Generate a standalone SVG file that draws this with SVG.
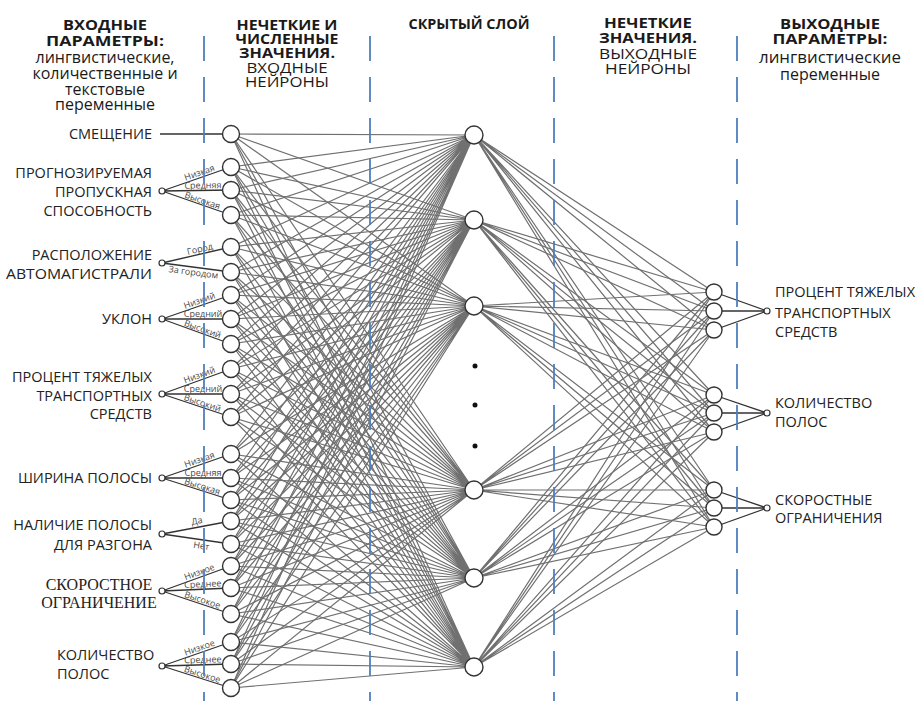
<svg xmlns="http://www.w3.org/2000/svg" width="919" height="701" viewBox="0 0 919 701">
<style>
.hb{font-family:"Open Sans","DejaVu Sans",sans-serif;font-weight:700;font-size:15px;fill:#1a1a1a;text-anchor:middle}
.hr{font-family:"Open Sans","DejaVu Sans",sans-serif;font-size:15px;fill:#1a1a1a;text-anchor:middle}
.hl{font-family:"Open Sans","DejaVu Sans",sans-serif;font-size:16px;fill:#1a1a1a;text-anchor:middle}
.lb{font-family:"Open Sans","DejaVu Sans",sans-serif;font-size:14.5px;fill:#222}
.ls{font-family:"Liberation Serif","Times New Roman",serif;font-size:16px;fill:#222;text-anchor:middle}
.bl{font-family:"Open Sans","DejaVu Sans",sans-serif;font-size:9px;fill:#4a4a4a;text-anchor:middle}
.n{fill:#fff;stroke:#333;stroke-width:1.4}
.s{fill:#fff;stroke:#333;stroke-width:1.2}
.w{fill:none;stroke:#707070;stroke-width:1.2}
.b{fill:none;stroke:#333;stroke-width:1.3}
.d{stroke:#4f7fbf;stroke-width:1.8;stroke-dasharray:25 16}
</style>
<rect width="919" height="701" fill="#fff"/>

<g id="headers">
<text class="hb" x="105" y="30" textLength="84" lengthAdjust="spacingAndGlyphs">ВХОДНЫЕ</text>
<text class="hb" x="105" y="46" textLength="118" lengthAdjust="spacingAndGlyphs">ПАРАМЕТРЫ:</text>
<text class="hl" x="105" y="63">лингвистические,</text>
<text class="hl" x="105" y="79">количественные и</text>
<text class="hl" x="105" y="95">текстовые</text>
<text class="hl" x="105" y="110">переменные</text>
<text class="hb" x="287" y="30" textLength="101" lengthAdjust="spacingAndGlyphs">НЕЧЕТКИЕ И</text>
<text class="hb" x="287" y="44" textLength="103" lengthAdjust="spacingAndGlyphs">ЧИСЛЕННЫЕ</text>
<text class="hb" x="287" y="58" textLength="96" lengthAdjust="spacingAndGlyphs">ЗНАЧЕНИЯ.</text>
<text class="hr" x="287" y="73" textLength="81" lengthAdjust="spacingAndGlyphs">ВХОДНЫЕ</text>
<text class="hr" x="287" y="87" textLength="84" lengthAdjust="spacingAndGlyphs">НЕЙРОНЫ</text>
<text class="hb" x="469" y="29" textLength="121" lengthAdjust="spacingAndGlyphs">СКРЫТЫЙ СЛОЙ</text>
<text class="hb" x="648" y="28" textLength="88" lengthAdjust="spacingAndGlyphs">НЕЧЕТКИЕ</text>
<text class="hb" x="648" y="43" textLength="98" lengthAdjust="spacingAndGlyphs">ЗНАЧЕНИЯ.</text>
<text class="hr" x="648" y="59" textLength="98" lengthAdjust="spacingAndGlyphs">ВЫХОДНЫЕ</text>
<text class="hr" x="648" y="74" textLength="86" lengthAdjust="spacingAndGlyphs">НЕЙРОНЫ</text>
<text class="hb" x="830" y="29" textLength="100" lengthAdjust="spacingAndGlyphs">ВЫХОДНЫЕ</text>
<text class="hb" x="830" y="44" textLength="115" lengthAdjust="spacingAndGlyphs">ПАРАМЕТРЫ:</text>
<text class="hl" x="830" y="63" textLength="142" lengthAdjust="spacingAndGlyphs">лингвистические</text>
<text class="hl" x="830" y="80">переменные</text>
</g>

<g id="connectors">
<path class="w" d="M231 134L474 135M231 167L474 135M231 190L474 135M231 215L474 135M231 247L474 135M231 272L474 135M231 295L474 135M231 319L474 135M231 344L474 135M231 369L474 135M231 394L474 135M231 417L474 135M231 454L474 135M231 478L474 135M231 500L474 135M231 521L474 135M231 544L474 135M231 566L474 135M231 588L474 135M231 614L474 135M231 642L474 135M231 664L474 135M231 688L474 135"/>
<path class="w" d="M231 134L474 220M231 167L474 220M231 190L474 220M231 215L474 220M231 247L474 220M231 272L474 220M231 295L474 220M231 319L474 220M231 344L474 220M231 369L474 220M231 394L474 220M231 417L474 220M231 454L474 220M231 478L474 220M231 500L474 220M231 521L474 220M231 544L474 220M231 566L474 220M231 588L474 220M231 614L474 220M231 642L474 220M231 664L474 220M231 688L474 220"/>
<path class="w" d="M231 134L474 306M231 167L474 306M231 190L474 306M231 215L474 306M231 247L474 306M231 272L474 306M231 295L474 306M231 319L474 306M231 344L474 306M231 369L474 306M231 394L474 306M231 417L474 306M231 454L474 306M231 478L474 306M231 500L474 306M231 521L474 306M231 544L474 306M231 566L474 306M231 588L474 306M231 614L474 306M231 642L474 306M231 664L474 306M231 688L474 306"/>
<path class="w" d="M231 134L474 490M231 167L474 490M231 190L474 490M231 215L474 490M231 247L474 490M231 272L474 490M231 295L474 490M231 319L474 490M231 344L474 490M231 369L474 490M231 394L474 490M231 417L474 490M231 454L474 490M231 478L474 490M231 500L474 490M231 521L474 490M231 544L474 490M231 566L474 490M231 588L474 490M231 614L474 490M231 642L474 490M231 664L474 490M231 688L474 490"/>
<path class="w" d="M231 134L474 578M231 167L474 578M231 190L474 578M231 215L474 578M231 247L474 578M231 272L474 578M231 295L474 578M231 319L474 578M231 344L474 578M231 369L474 578M231 394L474 578M231 417L474 578M231 454L474 578M231 478L474 578M231 500L474 578M231 521L474 578M231 544L474 578M231 566L474 578M231 588L474 578M231 614L474 578M231 642L474 578M231 664L474 578M231 688L474 578"/>
<path class="w" d="M231 134L474 667M231 167L474 667M231 190L474 667M231 215L474 667M231 247L474 667M231 272L474 667M231 295L474 667M231 319L474 667M231 344L474 667M231 369L474 667M231 394L474 667M231 417L474 667M231 454L474 667M231 478L474 667M231 500L474 667M231 521L474 667M231 544L474 667M231 566L474 667M231 588L474 667M231 614L474 667M231 642L474 667M231 664L474 667M231 688L474 667"/>
<path class="w" d="M474 135L714 292M474 135L714 311M474 135L714 330M474 135L714 395M474 135L714 413M474 135L714 432M474 135L714 490M474 135L714 508M474 135L714 527"/>
<path class="w" d="M474 220L714 292M474 220L714 311M474 220L714 330M474 220L714 395M474 220L714 413M474 220L714 432M474 220L714 490M474 220L714 508M474 220L714 527"/>
<path class="w" d="M474 306L714 292M474 306L714 311M474 306L714 330M474 306L714 395M474 306L714 413M474 306L714 432M474 306L714 490M474 306L714 508M474 306L714 527"/>
<path class="w" d="M474 490L714 292M474 490L714 311M474 490L714 330M474 490L714 395M474 490L714 413M474 490L714 432M474 490L714 490M474 490L714 508M474 490L714 527"/>
<path class="w" d="M474 578L714 292M474 578L714 311M474 578L714 330M474 578L714 395M474 578L714 413M474 578L714 432M474 578L714 490M474 578L714 508M474 578L714 527"/>
<path class="w" d="M474 667L714 292M474 667L714 311M474 667L714 330M474 667L714 395M474 667L714 413M474 667L714 432M474 667L714 490M474 667L714 508M474 667L714 527"/>
<path class="b" d="M160 134L231 134M162 191L231 167M162 191L231 190M162 191L231 215M162 263L231 247M162 263L231 272M162 319L231 295M162 319L231 319M162 319L231 344M162 394L231 369M162 394L231 394M162 394L231 417M162 478L231 454M162 478L231 478M162 478L231 500M162 534L231 521M162 534L231 544M162 591L231 566M162 591L231 588M162 591L231 614M162 666L231 642M162 666L231 664M162 666L231 688"/>
<path class="b" d="M714 292L767 311M714 311L767 311M714 330L767 311M714 395L767 413M714 413L767 413M714 432L767 413M714 490L767 508M714 508L767 508M714 527L767 508"/>
</g>

<g id="branch-labels">
<text class="bl" transform="translate(201,177.2) rotate(-19.2)" y="-1.8">Низкая</text>
<text class="bl" transform="translate(203,190.4) rotate(-0.8)" y="-2">Средняя</text>
<text class="bl" transform="translate(201,204.8) rotate(19.2)" y="-1.5">Высокая</text>
<text class="bl" transform="translate(201,253.7) rotate(-13)" y="-1.8">Город</text>
<text class="bl" transform="translate(194,267.4) rotate(7.4)" y="8">За городом</text>
<text class="bl" transform="translate(201,305.2) rotate(-19.2)" y="-1.8">Низкий</text>
<text class="bl" transform="translate(203,319) rotate(0)" y="-2">Средний</text>
<text class="bl" transform="translate(201,333.4) rotate(19.9)" y="-1.5">Высокий</text>
<text class="bl" transform="translate(201,379.6) rotate(-19.9)" y="-1.8">Низкий</text>
<text class="bl" transform="translate(203,394) rotate(0)" y="-2">Средний</text>
<text class="bl" transform="translate(201,407.3) rotate(18.4)" y="-1.5">Высокий</text>
<text class="bl" transform="translate(201,464.2) rotate(-19.2)" y="-1.8">Низкая</text>
<text class="bl" transform="translate(203,478) rotate(0)" y="-2">Средняя</text>
<text class="bl" transform="translate(201,490.7) rotate(17.7)" y="-1.5">Высокая</text>
<text class="bl" transform="translate(198,526.8) rotate(-10.7)" y="-3">Да</text>
<text class="bl" transform="translate(202,541) rotate(8.2)" y="8">Нет</text>
<text class="bl" transform="translate(201,576.6) rotate(-19.9)" y="-1.8">Низкое</text>
<text class="bl" transform="translate(203,589.1) rotate(-2.5)" y="-2">Среднее</text>
<text class="bl" transform="translate(201,604.3) rotate(18.4)" y="-1.5">Высокое</text>
<text class="bl" transform="translate(201,652.2) rotate(-19.2)" y="-1.8">Низкое</text>
<text class="bl" transform="translate(203,664.8) rotate(-1.7)" y="-2">Среднее</text>
<text class="bl" transform="translate(201,678.7) rotate(17.7)" y="-1.5">Высокое</text>
</g>

<g id="dividers">
<line class="d" x1="204" y1="36" x2="204" y2="701"/>
<line class="d" x1="370" y1="36" x2="370" y2="701"/>
<line class="d" x1="554" y1="36" x2="554" y2="701"/>
<line class="d" x1="737" y1="36" x2="737" y2="701"/>
</g>

<g id="in-bias"><text class="lb" x="152" y="139" text-anchor="end">СМЕЩЕНИЕ</text></g>
<g id="in-capacity"><text class="lb" x="152" y="178" text-anchor="end">ПРОГНОЗИРУЕМАЯ</text><text class="lb" x="152" y="197" text-anchor="end">ПРОПУСКНАЯ</text><text class="lb" x="152" y="216" text-anchor="end">СПОСОБНОСТЬ</text><circle class="s" cx="162" cy="191" r="3"/></g>
<g id="in-location"><text class="lb" x="152" y="260" text-anchor="end">РАСПОЛОЖЕНИЕ</text><text class="lb" x="152" y="279" text-anchor="end" textLength="146" lengthAdjust="spacingAndGlyphs">АВТОМАГИСТРАЛИ</text><circle class="s" cx="162" cy="263" r="3"/></g>
<g id="in-grade"><text class="lb" x="152" y="324" text-anchor="end">УКЛОН</text><circle class="s" cx="162" cy="319" r="3"/></g>
<g id="in-heavy"><text class="lb" x="152" y="382" text-anchor="end">ПРОЦЕНТ ТЯЖЕЛЫХ</text><text class="lb" x="152" y="401" text-anchor="end">ТРАНСПОРТНЫХ</text><text class="lb" x="152" y="419" text-anchor="end">СРЕДСТВ</text><circle class="s" cx="162" cy="394" r="3"/></g>
<g id="in-width"><text class="lb" x="152" y="483" text-anchor="end">ШИРИНА ПОЛОСЫ</text><circle class="s" cx="162" cy="478" r="3"/></g>
<g id="in-accel"><text class="lb" x="152" y="530" text-anchor="end">НАЛИЧИЕ ПОЛОСЫ</text><text class="lb" x="152" y="550" text-anchor="end">ДЛЯ РАЗГОНА</text><circle class="s" cx="162" cy="534" r="3"/></g>
<g id="in-speed"><text class="ls" x="99" y="590">СКОРОСТНОЕ</text><text class="ls" x="99" y="608">ОГРАНИЧЕНИЕ</text><circle class="s" cx="162" cy="591" r="3"/></g>
<g id="in-lanes"><text class="lb" x="57" y="660">КОЛИЧЕСТВО</text><text class="lb" x="57" y="679">ПОЛОС</text><circle class="s" cx="162" cy="666" r="3"/></g>

<g id="input-neurons">
<g id="i1"><circle class="n" cx="231" cy="134" r="8.5"/></g>
<g id="i2"><circle class="n" cx="231" cy="167" r="8.5"/></g>
<g id="i3"><circle class="n" cx="231" cy="190" r="8.5"/></g>
<g id="i4"><circle class="n" cx="231" cy="215" r="8.5"/></g>
<g id="i5"><circle class="n" cx="231" cy="247" r="8.5"/></g>
<g id="i6"><circle class="n" cx="231" cy="272" r="8.5"/></g>
<g id="i7"><circle class="n" cx="231" cy="295" r="8.5"/></g>
<g id="i8"><circle class="n" cx="231" cy="319" r="8.5"/></g>
<g id="i9"><circle class="n" cx="231" cy="344" r="8.5"/></g>
<g id="i10"><circle class="n" cx="231" cy="369" r="8.5"/></g>
<g id="i11"><circle class="n" cx="231" cy="394" r="8.5"/></g>
<g id="i12"><circle class="n" cx="231" cy="417" r="8.5"/></g>
<g id="i13"><circle class="n" cx="231" cy="454" r="8.5"/></g>
<g id="i14"><circle class="n" cx="231" cy="478" r="8.5"/></g>
<g id="i15"><circle class="n" cx="231" cy="500" r="8.5"/></g>
<g id="i16"><circle class="n" cx="231" cy="521" r="8.5"/></g>
<g id="i17"><circle class="n" cx="231" cy="544" r="8.5"/></g>
<g id="i18"><circle class="n" cx="231" cy="566" r="8.5"/></g>
<g id="i19"><circle class="n" cx="231" cy="588" r="8.5"/></g>
<g id="i20"><circle class="n" cx="231" cy="614" r="8.5"/></g>
<g id="i21"><circle class="n" cx="231" cy="642" r="8.5"/></g>
<g id="i22"><circle class="n" cx="231" cy="664" r="8.5"/></g>
<g id="i23"><circle class="n" cx="231" cy="688" r="8.5"/></g>
</g>

<g id="hidden-neurons">
<g id="h1"><circle class="n" cx="474" cy="135" r="9"/></g>
<g id="h2"><circle class="n" cx="474" cy="220" r="9"/></g>
<g id="h3"><circle class="n" cx="474" cy="306" r="9"/></g>
<g id="h4"><circle class="n" cx="474" cy="490" r="9"/></g>
<g id="h5"><circle class="n" cx="474" cy="578" r="9"/></g>
<g id="h6"><circle class="n" cx="474" cy="667" r="9"/></g>
<g id="ellipsis"><circle cx="475" cy="366" r="2.5" fill="#111"/><circle cx="475" cy="405" r="2.5" fill="#111"/><circle cx="475" cy="446" r="2.5" fill="#111"/></g>
</g>

<g id="output-neurons">
<g id="o1"><circle class="n" cx="714" cy="292" r="8"/></g>
<g id="o2"><circle class="n" cx="714" cy="311" r="8"/></g>
<g id="o3"><circle class="n" cx="714" cy="330" r="8"/></g>
<g id="o4"><circle class="n" cx="714" cy="395" r="8"/></g>
<g id="o5"><circle class="n" cx="714" cy="413" r="8"/></g>
<g id="o6"><circle class="n" cx="714" cy="432" r="8"/></g>
<g id="o7"><circle class="n" cx="714" cy="490" r="8"/></g>
<g id="o8"><circle class="n" cx="714" cy="508" r="8"/></g>
<g id="o9"><circle class="n" cx="714" cy="527" r="8"/></g>
</g>

<g id="out-heavy"><circle class="s" cx="767" cy="311" r="3"/><text class="lb" x="775" y="297">ПРОЦЕНТ ТЯЖЕЛЫХ</text><text class="lb" x="775" y="318">ТРАНСПОРТНЫХ</text><text class="lb" x="775" y="337">СРЕДСТВ</text></g>
<g id="out-lanes"><circle class="s" cx="767" cy="413" r="3"/><text class="lb" x="775" y="408">КОЛИЧЕСТВО</text><text class="lb" x="775" y="427">ПОЛОС</text></g>
<g id="out-speed"><circle class="s" cx="767" cy="508" r="3"/><text class="lb" x="775" y="505">СКОРОСТНЫЕ</text><text class="lb" x="775" y="523">ОГРАНИЧЕНИЯ</text></g>
</svg>
